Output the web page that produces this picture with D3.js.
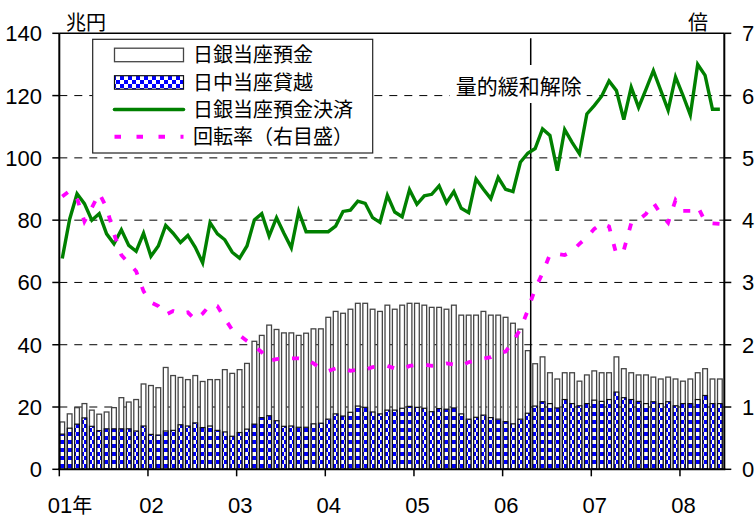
<!DOCTYPE html>
<html>
<head>
<meta charset="utf-8">
<script src="https://cdn.jsdelivr.net/npm/d3@7"></script>
<style>
  html, body { margin: 0; padding: 0; background: #fff; }
  svg { display: block; }
  .num { font-family: "Liberation Sans Narrow", "Arial Narrow", "Liberation Sans", sans-serif; fill: #000; }
  .jp { font-family: "Noto Sans CJK JP", sans-serif; fill: #000; }
</style>
</head>
<body>
<svg id="chart" width="755" height="520"></svg>
<script>
// ---- data (monthly, 2001/01 - 2008/06) ----
const startYear = 2001;
const monthCount = 90;
const yearTickLabels = ["01年", "02", "03", "04", "05", "06", "07", "08"];
const leftTicks = [0, 20, 40, 60, 80, 100, 120, 140];
const rightTicks = [0, 1, 2, 3, 4, 5, 6, 7];

// 日銀当座預金 (兆円)
const balance = [
  15.2, 17.8, 19.8, 21.1, 19.0, 17.7, 18.4, 19.8, 23.0, 21.6, 22.4, 27.4,
  26.9, 26.2, 32.7, 30.1, 29.5, 28.8, 30.1, 28.2, 28.8, 28.8, 32.0, 30.8,
  32.0, 34.0, 41.1, 43.0, 46.3, 44.9, 43.8, 43.8, 43.0, 43.7, 45.1, 45.1,
  48.8, 50.7, 50.1, 51.4, 53.3, 53.3, 51.4, 50.7, 52.7, 51.4, 52.7, 53.3,
  53.3, 52.7, 52.0, 52.0, 51.4, 52.7, 49.5, 49.5, 49.5, 50.7, 49.5, 49.5,
  48.8, 46.9, 45.0, 38.1, 33.9, 36.1, 31.0, 29.0, 31.0, 31.0, 28.3, 30.3,
  31.6, 31.0, 31.0, 36.1, 32.3, 31.0, 30.3, 30.3, 29.6, 29.0, 29.6, 29.0,
  28.3, 29.0, 31.0, 32.3, 29.0, 29.0
];

// 日中当座貸越 (兆円)
const overdraft = [
  11.3, 13.2, 14.5, 16.5, 13.8, 12.4, 13.0, 13.0, 13.0, 13.0, 12.3, 13.9,
  11.2, 11.0, 12.3, 12.5, 14.3, 13.9, 14.9, 13.4, 13.9, 12.5, 12.0, 10.6,
  11.8, 12.9, 14.5, 16.6, 17.2, 15.6, 13.8, 13.9, 13.5, 13.5, 14.6, 14.8,
  16.1, 17.8, 17.1, 18.3, 20.3, 19.9, 18.4, 17.8, 19.0, 19.0, 19.6, 20.2,
  19.9, 19.6, 18.5, 19.5, 19.3, 19.7, 17.8, 16.1, 16.7, 17.4, 16.6, 16.1,
  15.3, 14.6, 16.1, 18.0, 20.3, 21.7, 21.1, 19.7, 22.4, 21.1, 20.4, 21.1,
  22.2, 21.8, 22.4, 24.8, 23.0, 22.4, 21.8, 21.1, 21.7, 21.1, 21.7, 20.4,
  21.1, 21.1, 22.4, 23.7, 21.1, 21.1
];

// 日銀当座預金決済 (兆円)
const settlement = [
  67.7, 80.3, 88.5, 85.3, 80.0, 82.1, 75.6, 72.4, 76.9, 71.9, 70.0, 75.8,
  68.4, 71.7, 78.3, 75.8, 72.8, 75.1, 71.3, 66.3, 79.2, 75.6, 73.7, 69.7,
  67.8, 71.7, 80.1, 82.1, 74.9, 80.8, 75.8, 71.1, 82.8, 76.3, 76.3, 76.3,
  76.3, 78.1, 82.8, 83.2, 86.1, 85.4, 80.8, 79.3, 88.0, 82.6, 81.1, 89.8,
  85.1, 87.8, 88.3, 91.0, 85.6, 89.2, 83.8, 82.4, 93.2, 89.9, 86.9, 93.7,
  89.9, 89.2, 98.6, 101.5, 103.0, 109.3, 107.2, 95.9, 109.1, 105.0, 101.3, 114.1,
  116.8, 119.8, 124.7, 121.6, 112.3, 122.7, 116.2, 122.0, 128.0, 121.7, 115.3, 126.0,
  120.1, 113.8, 130.0, 126.5, 115.6, 115.6
];

// 回転率 (倍, 右目盛)
const turnover = [
  4.38, 4.47, 4.35, 3.98, 4.20, 4.43, 4.20, 3.78, 3.44, 3.31, 3.18, 2.86,
  2.68, 2.62, 2.48, 2.54, 2.50, 2.52, 2.40, 2.50, 2.64, 2.62, 2.42, 2.24,
  2.15, 2.06, 1.98, 1.88, 1.74, 1.77, 1.78, 1.78, 1.78, 1.77, 1.70, 1.62,
  1.58, 1.62, 1.62, 1.58, 1.60, 1.60, 1.64, 1.66, 1.66, 1.62, 1.61, 1.66,
  1.68, 1.68, 1.66, 1.68, 1.70, 1.68, 1.66, 1.72, 1.75, 1.78, 1.80, 1.86,
  1.89, 2.05, 2.25, 2.55, 2.90, 3.15, 3.45, 3.46, 3.44, 3.50, 3.62, 3.72,
  3.86, 3.95, 3.90, 3.45, 3.52, 3.95, 4.00, 4.10, 4.28, 4.10, 3.96, 4.32,
  4.15, 4.15, 4.22, 3.98, 3.95, 3.94
];

const seriesNames = ["日銀当座預金", "日中当座貸越", "日銀当座預金決済", "回転率（右目盛）"];
const policyMonth = "2006-04";
const policyLabel = "量的緩和解除";

// ---- layout ----
const months = d3.range(monthCount).map(i => {
  const y = startYear + Math.floor(i / 12), m = (i % 12) + 1;
  return y + "-" + String(m).padStart(2, "0");
});
const rows = months.map((m, i) => ({
  month: m, balance: balance[i], overdraft: overdraft[i],
  settlement: settlement[i], turnover: turnover[i]
}));

const plot = { left: 59.3, right: 724.3, top: 33.3, bottom: 469.3 };

const x = d3.scaleBand().domain(months)
  .range([plot.left, plot.right])
  .paddingInner(0.2).paddingOuter(0.1).align(0);
const yL = d3.scaleLinear().domain([0, 140]).range([plot.bottom, plot.top]);
const yR = d3.scaleLinear().domain([0, 7]).range([plot.bottom, plot.top]);
const cx = m => x(m) + x.bandwidth() / 2;

const svg = d3.select("#chart");
const defs = svg.append("defs");

// blue / white checker fill for the overdraft bars
const pat = defs.append("pattern").attr("id", "checker")
  .attr("patternUnits", "userSpaceOnUse").attr("width", 8).attr("height", 8);
pat.append("rect").attr("width", 8).attr("height", 8).attr("fill", "#0000ff");
pat.append("rect").attr("x", 0).attr("y", 0).attr("width", 4).attr("height", 4).attr("fill", "#fff");
pat.append("rect").attr("x", 4).attr("y", 4).attr("width", 4).attr("height", 4).attr("fill", "#fff");

// gridlines
svg.append("g").selectAll("line")
  .data(leftTicks.filter(v => v > 0 && v < 140))
  .join("line")
  .attr("x1", plot.left).attr("x2", plot.right)
  .attr("y1", d => yL(d)).attr("y2", d => yL(d))
  .attr("stroke", "#000").attr("stroke-width", 1)
  .attr("stroke-dasharray", "8,7");

// current account balance bars
const barInset = 0.6;
svg.append("g").selectAll("rect")
  .data(rows).join("rect")
  .attr("x", d => x(d.month) + barInset)
  .attr("width", x.bandwidth() - 2 * barInset)
  .attr("y", d => yL(d.balance))
  .attr("height", d => yL(0) - yL(d.balance))
  .attr("fill", "#fff").attr("stroke", "#454545").attr("stroke-width", 1.3);

// intraday overdraft bars
svg.append("g").selectAll("rect")
  .data(rows).join("rect")
  .attr("x", d => x(d.month) + barInset)
  .attr("width", x.bandwidth() - 2 * barInset)
  .attr("y", d => yL(d.overdraft))
  .attr("height", d => yL(0) - yL(d.overdraft))
  .attr("fill", "url(#checker)").attr("stroke", "#111").attr("stroke-width", 1.2);

// policy change marker
const policyX = x(policyMonth) + x.bandwidth();
svg.append("line")
  .attr("x1", policyX).attr("x2", policyX)
  .attr("y1", plot.top + 5).attr("y2", plot.bottom)
  .attr("stroke", "#000").attr("stroke-width", 1.5);

// settlement line
svg.append("path").datum(rows)
  .attr("d", d3.line().x(d => cx(d.month)).y(d => yL(d.settlement)))
  .attr("fill", "none").attr("stroke", "#008000").attr("stroke-width", 3.4)
  .attr("stroke-linejoin", "miter");

// turnover line (right axis)
svg.append("path").datum(rows)
  .attr("d", d3.line().x(d => cx(d.month)).y(d => yR(d.turnover)))
  .attr("fill", "none").attr("stroke", "#ff00ff").attr("stroke-width", 3.8)
  .attr("stroke-dasharray", "7,13");

// axes frame
const frame = svg.append("g").attr("stroke", "#000");
frame.append("line").attr("x1", plot.left).attr("x2", plot.left)
  .attr("y1", plot.top).attr("y2", plot.bottom).attr("stroke-width", 2);
frame.append("line").attr("x1", plot.right).attr("x2", plot.right)
  .attr("y1", plot.top).attr("y2", plot.bottom).attr("stroke-width", 2);
frame.append("line").attr("x1", plot.left).attr("x2", plot.right)
  .attr("y1", plot.top).attr("y2", plot.top).attr("stroke-width", 1.6);
frame.append("line").attr("x1", plot.left - 1).attr("x2", plot.right + 1)
  .attr("y1", plot.bottom).attr("y2", plot.bottom).attr("stroke-width", 2);

// left axis
const leftAxis = svg.append("g");
leftAxis.selectAll("line").data(leftTicks).join("line")
  .attr("x1", plot.left - 7).attr("x2", plot.left)
  .attr("y1", d => yL(d)).attr("y2", d => yL(d))
  .attr("stroke", "#000").attr("stroke-width", 1.5);
leftAxis.selectAll("text").data(leftTicks).join("text")
  .attr("class", "num").attr("x", 42).attr("y", d => yL(d)).attr("dy", "0.36em")
  .attr("text-anchor", "end").attr("font-size", 22).text(d => d);

// right axis
const rightAxis = svg.append("g");
rightAxis.selectAll("line").data(rightTicks).join("line")
  .attr("x1", plot.right).attr("x2", plot.right + 7)
  .attr("y1", d => yR(d)).attr("y2", d => yR(d))
  .attr("stroke", "#000").attr("stroke-width", 1.5);
rightAxis.selectAll("text").data(rightTicks).join("text")
  .attr("class", "num").attr("x", 742).attr("y", d => yR(d)).attr("dy", "0.36em")
  .attr("text-anchor", "start").attr("font-size", 22).text(d => d);

// bottom axis: a tick at each January
const janMonths = months.filter(m => m.endsWith("-01"));
const bottomAxis = svg.append("g");
bottomAxis.selectAll("line").data(janMonths).join("line")
  .attr("x1", d => x(d)).attr("x2", d => x(d))
  .attr("y1", plot.bottom).attr("y2", plot.bottom + 7)
  .attr("stroke", "#000").attr("stroke-width", 1.5);
bottomAxis.selectAll("text").data(janMonths).join("text")
  .attr("class", "num")
  .attr("x", (d, i) => i === 0 ? x(d) - 11.5 : x(d) + 3.5)
  .attr("y", 513)
  .attr("text-anchor", (d, i) => i === 0 ? "start" : "middle")
  .attr("font-size", 22)
  .each(function (d, i) {
    const t = d3.select(this);
    const label = yearTickLabels[i];
    if (label.endsWith("年")) {
      t.append("tspan").text(label.slice(0, -1));
      t.append("tspan").attr("class", "jp").attr("font-size", 20).text("年");
    } else {
      t.text(label);
    }
  });

// unit labels
svg.append("text").attr("class", "jp").attr("x", 66).attr("y", 30)
  .attr("font-size", 20).text("兆円");
svg.append("text").attr("class", "jp").attr("x", 698).attr("y", 30)
  .attr("text-anchor", "middle").attr("font-size", 20).text("倍");

// policy label on a white plate
const labelG = svg.append("g");
labelG.append("rect").attr("x", policyX - 81).attr("y", 65)
  .attr("width", 137).attr("height", 38).attr("fill", "#fff");
labelG.append("text").attr("class", "jp")
  .attr("x", policyX - 12).attr("y", 94)
  .attr("text-anchor", "middle").attr("font-size", 21).text(policyLabel);

// legend
const lg = svg.append("g");
lg.append("rect").attr("x", 92.7).attr("y", 39.3).attr("width", 280).attr("height", 113.7)
  .attr("fill", "#fff").attr("stroke", "#222").attr("stroke-width", 1.2);
const rowY = [54.7, 82.2, 109.5, 136.8];
const swX = 114.5, swW = 69;
lg.append("rect").attr("x", swX).attr("y", rowY[0] - 6.5).attr("width", swW).attr("height", 13.5)
  .attr("fill", "#fff").attr("stroke", "#454545").attr("stroke-width", 1.3);
lg.append("rect").attr("x", swX).attr("y", rowY[1] - 6.5).attr("width", swW).attr("height", 13.5)
  .attr("fill", "url(#checker)").attr("stroke", "#111").attr("stroke-width", 1.2);
lg.append("line").attr("x1", swX).attr("x2", swX + swW).attr("y1", rowY[2]).attr("y2", rowY[2])
  .attr("stroke", "#008000").attr("stroke-width", 3.6).attr("stroke-linecap", "round");
lg.append("line").attr("x1", swX).attr("x2", swX + swW).attr("y1", rowY[3]).attr("y2", rowY[3])
  .attr("stroke", "#ff00ff").attr("stroke-width", 4).attr("stroke-dasharray", "6.5,15.5");
lg.selectAll("text.item").data(seriesNames).join("text")
  .attr("class", "jp item").attr("x", 193).attr("y", (d, i) => rowY[i] + 7.5)
  .attr("font-size", 20).text(d => d);
</script>
</body>
</html>
